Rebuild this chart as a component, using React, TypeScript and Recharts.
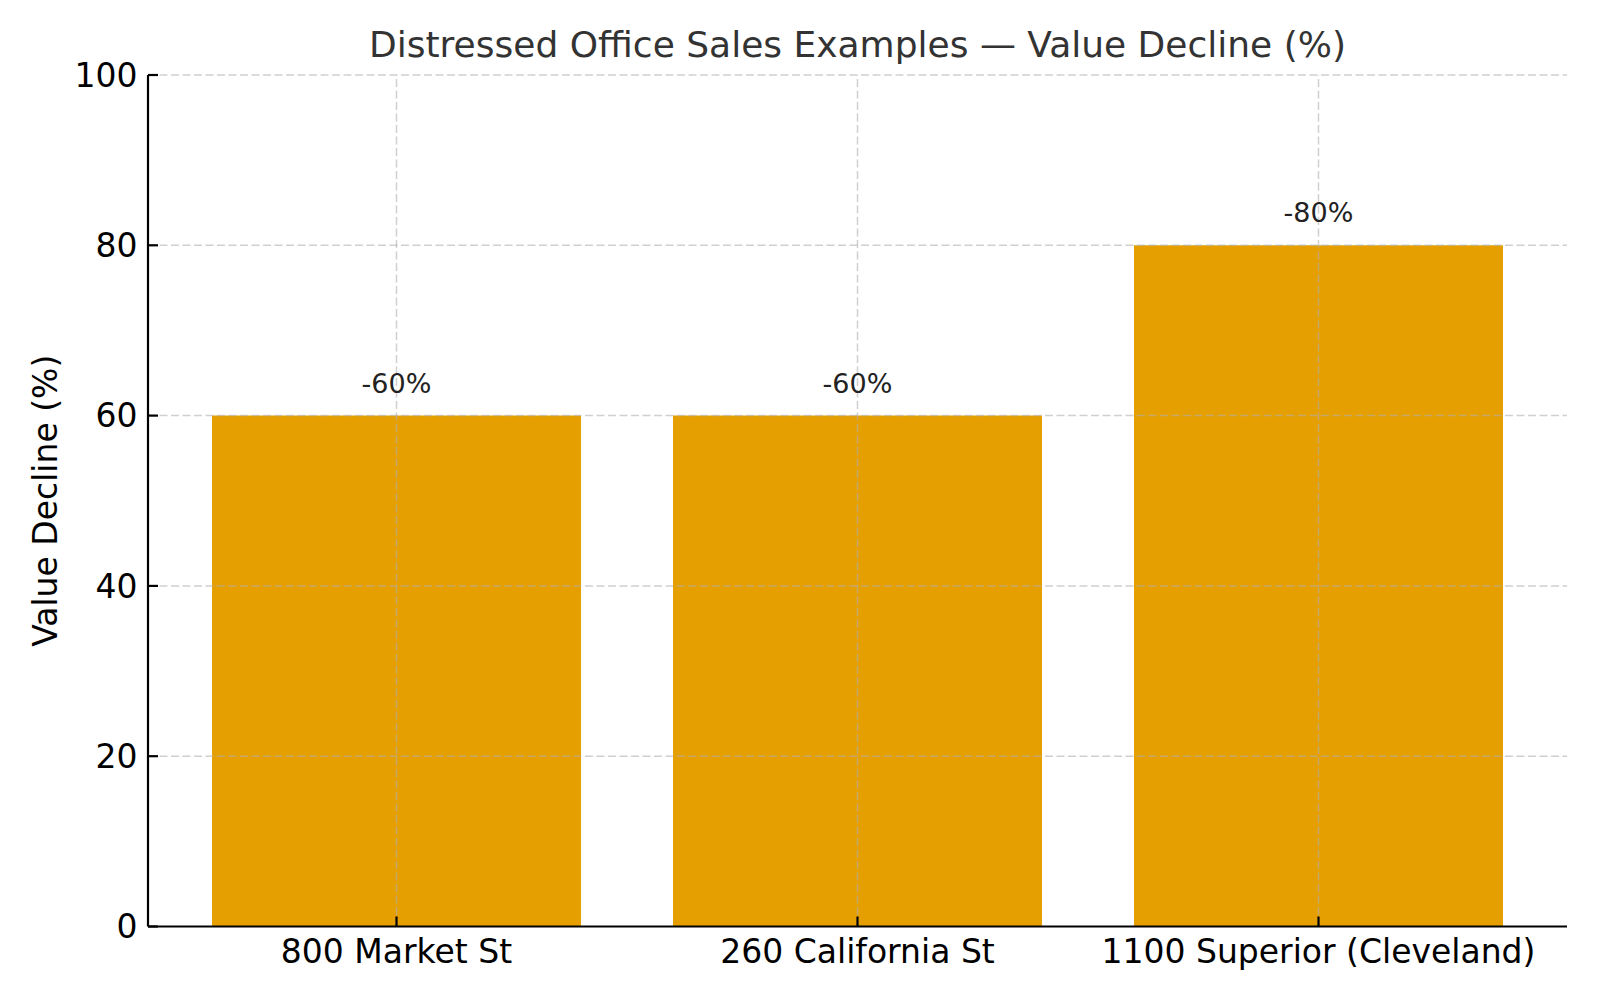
import {
  BarChart,
  Bar,
  XAxis,
  YAxis,
  ReferenceLine,
  LabelList,
  Label,
} from "recharts";

const properties = ["800 Market St", "260 California St", "1100 Superior (Cleveland)"];
const declines = [60, 60, 80];
const yTicks = [0, 20, 40, 60, 80, 100];

const data = properties.map((name, i) => ({ name, decline: declines[i] }));

const FONT = "DejaVu Sans, sans-serif";
const TICK_LEN = 10;
const X_GAP = 13;
const Y_GAP = 10.5;
const gridStyle = { stroke: "#b0b0b0", strokeOpacity: 0.6, strokeWidth: 1.5, strokeDasharray: "8 3.5" };

// matplotlib-style inward ticks: draw the tick line and label together
const XTick = ({ x, y, payload }: any) => (
  <g>
    <line x1={x} x2={x} y1={y - X_GAP} y2={y - X_GAP - TICK_LEN} stroke="#000" strokeWidth={2.2} />
    <text x={x} y={y} dy="0.71em" textAnchor="middle" fontFamily={FONT} fontSize={33} fill="#000">
      {payload.value}
    </text>
  </g>
);

const YTick = ({ x, y, payload }: any) => (
  <g>
    <line x1={x + Y_GAP} x2={x + Y_GAP + TICK_LEN} y1={y} y2={y} stroke="#000" strokeWidth={2.2} />
    <text x={x} y={y} dy="0.355em" textAnchor="end" fontFamily={FONT} fontSize={33} fill="#000">
      {payload.value}
    </text>
  </g>
);

export default function App() {
  return (
    <div style={{ position: "absolute", left: 0, top: 0, width: 1600, height: 1000, background: "#fff" }}>
      <svg width={1600} height={80} style={{ position: "absolute", left: 0, top: 0 }}>
        <text x={857.5} y={57} textAnchor="middle" fontFamily={FONT} fontSize={36} fill="#333">
          Distressed Office Sales Examples — Value Decline (%)
        </text>
      </svg>
      <BarChart
        width={1600}
        height={1000}
        data={data}
        margin={{ top: 75, right: 33, left: 0, bottom: 0 }}
      >
        <XAxis
          dataKey="name"
          height={73.5}
          padding={{ left: 18, right: 18 }}
          tickSize={0}
          tickMargin={X_GAP}
          axisLine={{ stroke: "#000", strokeWidth: 2.2 }}
          tickLine={false}
          tick={<XTick />}
          interval={0}
        />
        <YAxis
          width={148}
          domain={[0, 100]}
          ticks={yTicks}
          tickSize={0}
          tickMargin={Y_GAP}
          axisLine={{ stroke: "#000", strokeWidth: 2.2 }}
          tickLine={false}
          tick={<YTick />}
        >
          <Label
            content={({ viewBox }: any) => (
              <text
                x={viewBox.x + 45}
                y={viewBox.y + viewBox.height / 2}
                transform={`rotate(-90, ${viewBox.x + 45}, ${viewBox.y + viewBox.height / 2})`}
                textAnchor="middle"
                dominantBaseline="central"
                fontFamily={FONT}
                fontSize={33}
                fill="#000"
              >
                Value Decline (%)
              </text>
            )}
          />
        </YAxis>
        <Bar dataKey="decline" fill="#E69F00" barSize={369} isAnimationActive={false}>
          <LabelList
            dataKey="decline"
            position="top"
            offset={23}
            formatter={(v: any) => `-${v}%`}
            style={{ fontFamily: FONT, fontSize: 27, fill: "#222" }}
          />
        </Bar>
        {yTicks.slice(1).map((t) => (
          <ReferenceLine key={`h${t}`} y={t} {...gridStyle} />
        ))}
        {properties.map((p) => (
          <ReferenceLine key={`v${p}`} x={p} {...gridStyle} />
        ))}
      </BarChart>
    </div>
  );
}
